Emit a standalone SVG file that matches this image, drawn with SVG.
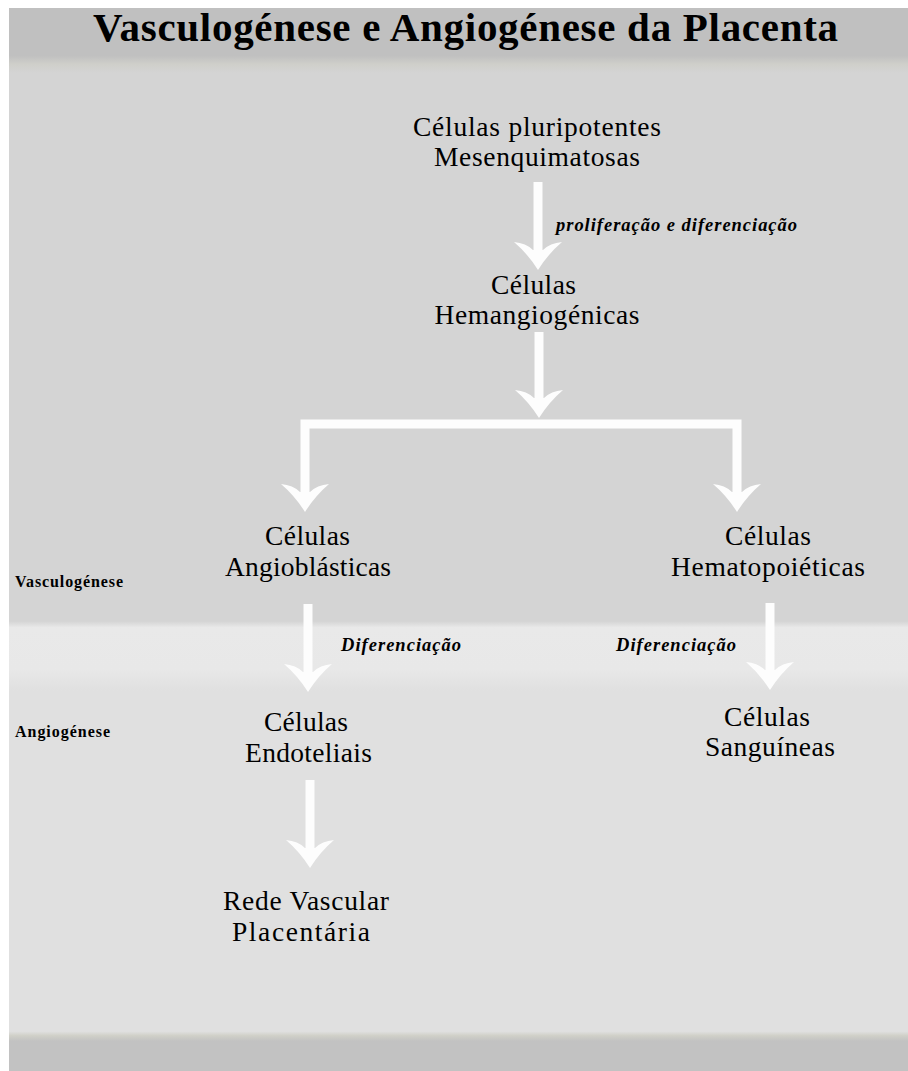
<svg xmlns="http://www.w3.org/2000/svg" width="908" height="1071" viewBox="0 0 908 1071">
<defs>
<linearGradient id="bg" x1="0" y1="0" x2="0" y2="1071" gradientUnits="userSpaceOnUse">
<stop offset="0" stop-color="#c0c0c0"/>
<stop offset="0.052" stop-color="#c0c0c0"/>
<stop offset="0.060" stop-color="#cfcfca"/>
<stop offset="0.068" stop-color="#d4d4d4"/>
<stop offset="0.580" stop-color="#d4d4d4"/>
<stop offset="0.586" stop-color="#e9e9e9"/>
<stop offset="0.625" stop-color="#e8e8e8"/>
<stop offset="0.645" stop-color="#e0e0e0"/>
<stop offset="0.963" stop-color="#e0e0e0"/>
<stop offset="0.967" stop-color="#d0d0c8"/>
<stop offset="0.972" stop-color="#c2c2c2"/>
<stop offset="1" stop-color="#c2c2c2"/>
</linearGradient>
<path id="head" d="M -5,-20 Q -12,-27 -24,-28 Q -10,-16 0,0 Q 10,-16 24,-28 Q 12,-27 5,-20 Z" fill="#fdfdfd"/>
</defs>
<style>
.t{font-family:"Liberation Serif","Times New Roman",serif;fill:#000;}
.n{font-size:27.5px;text-anchor:middle;}
.lab{font-size:18.5px;font-weight:bold;font-style:italic;}
.side{font-size:16px;font-weight:bold;}
.shaft{stroke:#fdfdfd;stroke-width:9;fill:none;stroke-linejoin:miter;}
</style>
<rect x="0" y="0" width="908" height="1071" fill="#ffffff"/>
<rect x="9" y="8" width="899" height="1063" fill="url(#bg)"/>

<g id="title">
<text class="t" x="465.5" y="41" font-size="41" font-weight="bold" text-anchor="middle" textLength="745">Vasculogénese e Angiogénese da Placenta</text>
</g>

<g id="connectors">
<line class="shaft" x1="538" y1="182" x2="538" y2="252"/>
<use href="#head" transform="translate(538,270)"/>
<line class="shaft" x1="539" y1="332" x2="539" y2="400"/>
<use href="#head" transform="translate(539,418)"/>
<path class="shaft" d="M305,494 L305,424 L737,424 L737,494"/>
<use href="#head" transform="translate(305,512)"/>
<use href="#head" transform="translate(737,512)"/>
<line class="shaft" x1="308" y1="604" x2="308" y2="674"/>
<use href="#head" transform="translate(308,692)"/>
<line class="shaft" x1="770" y1="603" x2="770" y2="672"/>
<use href="#head" transform="translate(770,690)"/>
<line class="shaft" x1="310" y1="780" x2="310" y2="850"/>
<use href="#head" transform="translate(310,868)"/>
<text class="t lab" x="556" y="231" textLength="241">proliferação e diferenciação</text>
<text class="t lab" x="341" y="651" textLength="120">Diferenciação</text>
<text class="t lab" x="616" y="651" textLength="120">Diferenciação</text>
</g>

<g id="node-mesenquimatosas">
<text class="t n" x="537" y="136" textLength="248">Células pluripotentes</text>
<text class="t n" x="537" y="166" textLength="206">Mesenquimatosas</text>
</g>
<g id="node-hemangiogenicas">
<text class="t n" x="533.5" y="294" textLength="85">Células</text>
<text class="t n" x="537" y="324" textLength="205">Hemangiogénicas</text>
</g>
<g id="node-angioblasticas">
<text class="t n" x="307.5" y="545" textLength="85">Células</text>
<text class="t n" x="308" y="576" textLength="166">Angioblásticas</text>
</g>
<g id="node-hematopoieticas">
<text class="t n" x="768" y="545" textLength="86">Células</text>
<text class="t n" x="768" y="576" textLength="194">Hematopoiéticas</text>
</g>
<g id="node-endoteliais">
<text class="t n" x="306" y="731" textLength="84">Células</text>
<text class="t n" x="308.5" y="762" textLength="127">Endoteliais</text>
</g>
<g id="node-sanguineas">
<text class="t n" x="767" y="726" textLength="86">Células</text>
<text class="t n" x="770" y="756" textLength="130">Sanguíneas</text>
</g>
<g id="node-rede">
<text class="t n" x="306" y="910" textLength="166">Rede Vascular</text>
<text class="t n" x="301" y="941" textLength="138">Placentária</text>
</g>
<g id="side-labels">
<text class="t side" x="15" y="587" textLength="108">Vasculogénese</text>
<text class="t side" x="15" y="737" textLength="95">Angiogénese</text>
</g>
</svg>
